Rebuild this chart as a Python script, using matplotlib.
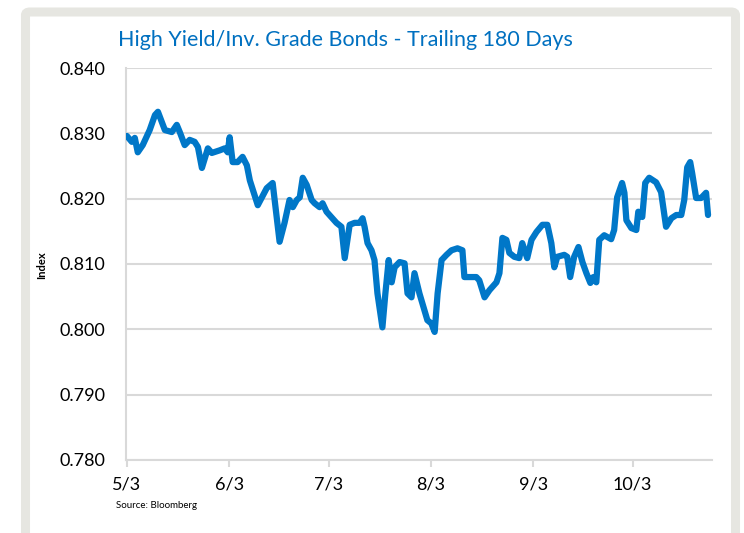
import matplotlib.pyplot as plt
from matplotlib.patches import FancyBboxPatch
import pandas as pd

# HY / IG ratio, days counted from 5/3
start_date = "2021-05-03"
days = [
    0, 1.5, 2.4, 3.3, 4.8, 6.9, 8.5, 9.4, 10.6, 11.5,
    13.6, 15.1, 16.0, 17.5, 19.0, 20.5, 21.5, 22.7, 23.6, 24.5,
    25.7, 28.1, 29.6, 30.5, 31.1, 32.0, 33.5, 35.0, 36.3, 37.2,
    39.6, 42.3, 44.1, 46.2, 47.7, 49.2, 50.2, 51.4, 52.3, 53.2,
    54.4, 55.9, 56.8, 58.3, 59.2, 60.4, 63.4, 64.9, 65.9, 67.4,
    68.9, 70.4, 71.3, 71.9, 72.8, 74.0, 74.9, 75.8, 77.3, 78.2,
    79.2, 80.1, 81.0, 82.5, 84.0, 84.9, 86.1, 87.0, 88.5, 90.0,
    90.9, 92.1, 93.1, 94.0, 95.2, 96.7, 98.2, 100.0, 101.5, 102.1,
    103.6, 105.7, 106.6, 108.2, 109.7, 111.8, 112.7, 113.6, 114.8, 115.7,
    117.2, 118.7, 119.6, 121.1, 122.4, 123.9, 125.7, 127.2, 128.4, 129.3,
    130.2, 132.3, 133.2, 134.1, 135.3, 136.6, 137.8, 139.0, 140.2, 141.1,
    142.0, 142.9, 144.4, 146.5, 147.4, 148.3, 149.8, 150.5, 151.1, 152.6,
    154.1, 154.7, 155.9, 156.8, 158.0, 160.1, 161.6, 163.1, 164.7, 166.2,
    167.7, 168.6, 169.5, 170.4, 171.0, 172.2, 173.7, 175.2, 175.8,
]
ratio = [
    0.8296, 0.8287, 0.8293, 0.8271, 0.8282, 0.8305, 0.8328, 0.8333, 0.8317, 0.8305,
    0.8302, 0.8313, 0.8302, 0.8282, 0.8290, 0.8287, 0.8279, 0.8247, 0.8262, 0.8277,
    0.8270, 0.8274, 0.8277, 0.8271, 0.8294, 0.8256, 0.8256, 0.8264, 0.8251, 0.8228,
    0.8190, 0.8216, 0.8224, 0.8134, 0.8163, 0.8198, 0.8187, 0.8198, 0.8202, 0.8232,
    0.8221, 0.8198, 0.8193, 0.8187, 0.8193, 0.8180, 0.8163, 0.8157, 0.8109, 0.8160,
    0.8163, 0.8163, 0.8170, 0.8157, 0.8132, 0.8121, 0.8106, 0.8055, 0.8003, 0.8055,
    0.8106, 0.8072, 0.8095, 0.8103, 0.8101, 0.8055, 0.8049, 0.8086, 0.8055, 0.8029,
    0.8014, 0.8009, 0.7996, 0.8055, 0.8106, 0.8114, 0.8121, 0.8124, 0.8121, 0.8080,
    0.8080, 0.8080, 0.8075, 0.8049, 0.8060, 0.8072, 0.8086, 0.8140, 0.8137, 0.8117,
    0.8111, 0.8109, 0.8132, 0.8109, 0.8137, 0.8149, 0.8160, 0.8160, 0.8132, 0.8095,
    0.8111, 0.8114, 0.8111, 0.8080, 0.8111, 0.8126, 0.8103, 0.8086, 0.8071, 0.8080,
    0.8072, 0.8137, 0.8144, 0.8138, 0.8152, 0.8202, 0.8224, 0.8209, 0.8167, 0.8155,
    0.8152, 0.8180, 0.8172, 0.8224, 0.8232, 0.8225, 0.8210, 0.8157, 0.8170, 0.8175,
    0.8175, 0.8198, 0.8248, 0.8256, 0.8239, 0.8201, 0.8201, 0.8209, 0.8175,
]
tick_dates = ["2021-05-03", "2021-06-03", "2021-07-03", "2021-08-03", "2021-09-03", "2021-10-03"]
tick_labels = ["5/3", "6/3", "7/3", "8/3", "9/3", "10/3"]
y_ticks = [0.780, 0.790, 0.800, 0.810, 0.820, 0.830, 0.840]

plt.rcParams["font.family"] = ["Lato", "DejaVu Sans"]

dates = pd.Timestamp(start_date) + pd.to_timedelta(days, unit="D")

fig = plt.figure(figsize=(7.44, 5.33), dpi=100)
ax = fig.add_axes([0.1694, 0.137, 0.7876, 0.7354])

# light frame around the chart
frame = FancyBboxPatch(
    (25.5 / 744, -0.05), 710 / 744, 1.05 - 12 / 533,
    boxstyle="round,pad=0,rounding_size=0.006",
    transform=fig.transFigure, fill=False,
    edgecolor="#E6E6E1", linewidth=6.5, zorder=0,
)
fig.patches.append(frame)

ax.plot(dates, ratio, color="#0077C8", linewidth=4.5,
        solid_joinstyle="round", solid_capstyle="round", zorder=3)

ax.set_ylim(0.780, 0.840)
ax.set_xlim(pd.Timestamp("2021-05-02 18:00"), pd.Timestamp("2021-10-27"))
ax.set_yticks(y_ticks)
ax.set_yticklabels([f"{v:.3f}" for v in y_ticks], fontsize=13)
ax.set_xticks(pd.to_datetime(tick_dates))
ax.set_xticklabels(tick_labels, fontsize=13)
ax.grid(axis="y", color="#D9D9D9", linewidth=1.5)
ax.set_axisbelow(True)

for s in ["top", "right"]:
    ax.spines[s].set_visible(False)
for s in ["left", "bottom"]:
    ax.spines[s].set_color("#D9D9D9")
    ax.spines[s].set_linewidth(1.5)
ax.tick_params(axis="y", length=0, pad=15)
ax.tick_params(axis="x", length=5, color="#D9D9D9", width=1.5, pad=7)

fig.text(42 / 744, 1 - 265 / 533, "Index", fontsize=8, fontweight="bold",
         rotation=90, va="center", ha="center")
fig.text(118 / 744, 1 - 40 / 533, "High Yield/Inv. Grade Bonds - Trailing 180 Days",
         color="#0070C0", fontsize=15.5, va="center", ha="left")
fig.text(116 / 744, 1 - 505 / 533, "Source: Bloomberg", fontsize=7,
         va="center", ha="left")

fig.savefig("out.png", dpi=100)
